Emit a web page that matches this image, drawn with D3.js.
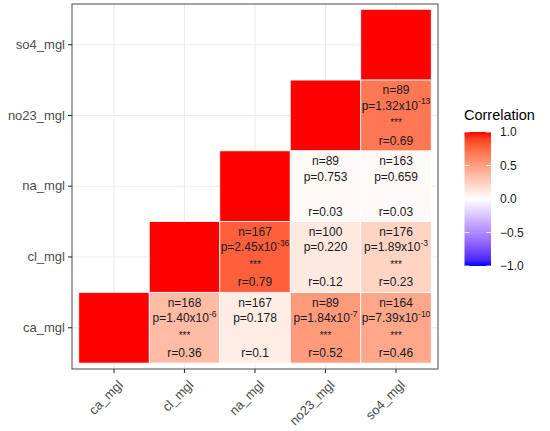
<!DOCTYPE html>
<html><head><meta charset="utf-8">
<script src="https://cdn.jsdelivr.net/npm/d3@7"></script>
<style>body{margin:0;background:#fff;} text{font-family:"Liberation Sans",Arial,sans-serif;}</style>
</head><body>
<svg id="chart" width="550" height="431"></svg>
<script>
const vars = ["ca_mgl","cl_mgl","na_mgl","no23_mgl","so4_mgl"];
// off-diagonal cells (x variable, y variable)
const cellX = ["cl_mgl","na_mgl","no23_mgl","so4_mgl","na_mgl","no23_mgl","so4_mgl","no23_mgl","so4_mgl","so4_mgl"];
const cellY = ["ca_mgl","ca_mgl","ca_mgl","ca_mgl","cl_mgl","cl_mgl","cl_mgl","na_mgl","na_mgl","no23_mgl"];
const nVals = [168,167,89,164,167,100,176,89,163,89];
const pMant = ["1.40","0.178","1.84","7.39","2.45","0.220","1.89","0.753","0.659","1.32"];
const pExp  = ["-6",null,"-7","-10","-36",null,"-3",null,null,"-13"];
const stars = ["***","","***","***","***","","***","","","***"];
const rVals = [0.36,0.1,0.52,0.46,0.79,0.12,0.23,0.03,0.03,0.69];
const legendTicks = [1.0,0.5,0.0,-0.5,-1.0];

const svg = d3.select("#chart");
const panel = {l:72, r:438, t:4, b:369};
const x = d3.scaleBand().domain(vars).range([78.75, 431.25]);
const y = d3.scaleBand().domain(vars.slice().reverse()).range([9.3, 363.1]);
const color = d3.scaleLinear().domain([-1,0,1]).range(["blue","white","red"]).interpolate(d3.interpolateLab);

// panel background
svg.append("rect").attr("x",panel.l).attr("y",panel.t).attr("width",panel.r-panel.l).attr("height",panel.b-panel.t).attr("fill","#fff");
// grid
const g = svg.append("g");
vars.forEach(v=>{
  g.append("line").attr("x1",x(v)+x.bandwidth()/2).attr("x2",x(v)+x.bandwidth()/2).attr("y1",panel.t).attr("y2",panel.b).attr("stroke","#EBEBEB").attr("stroke-width",1.1);
  g.append("line").attr("y1",y(v)+y.bandwidth()/2).attr("y2",y(v)+y.bandwidth()/2).attr("x1",panel.l).attr("x2",panel.r).attr("stroke","#EBEBEB").attr("stroke-width",1.1);
});

// diagonal tiles
svg.append("g").selectAll("rect").data(vars).join("rect")
  .attr("x",d=>x(d)).attr("y",d=>y(d)).attr("width",x.bandwidth()).attr("height",y.bandwidth())
  .attr("fill",color(1)).attr("stroke","#fff").attr("stroke-width",0.8);

const cells = cellX.map((cx,i)=>({x:cx,y:cellY[i],n:nVals[i],pm:pMant[i],pe:pExp[i],s:stars[i],r:rVals[i]}));
const cg = svg.append("g").selectAll("g").data(cells).join("g")
  .attr("transform",d=>`translate(${x(d.x)},${y(d.y)})`);
cg.append("rect").attr("width",x.bandwidth()).attr("height",y.bandwidth())
  .attr("fill",d=>color(d.r)).attr("stroke","#fff").attr("stroke-width",0.8);
const cx0 = x.bandwidth()/2, cy0 = y.bandwidth()/2;
const tcol = "#1a1a1a";
const fs = 12;
cg.append("text").attr("x",cx0).attr("y",cy0-25).attr("text-anchor","middle").attr("dominant-baseline","central")
  .attr("font-size",fs).attr("fill",tcol).text(d=>"n="+d.n);
const pt = cg.append("text").attr("x",cx0).attr("y",cy0-9.5).attr("text-anchor","middle").attr("dominant-baseline","central")
  .attr("font-size",fs).attr("fill",tcol);
pt.append("tspan").text(d=>"p="+d.pm+(d.pe?"x10":""));
pt.filter(d=>d.pe).append("tspan").attr("font-size",8.5).attr("dy",-4.5).text(d=>d.pe);
cg.append("text").attr("x",cx0).attr("y",cy0+11).attr("text-anchor","middle")
  .attr("font-size",10).attr("fill",tcol).text(d=>d.s);
cg.append("text").attr("x",cx0).attr("y",cy0+25.5).attr("text-anchor","middle").attr("dominant-baseline","central")
  .attr("font-size",fs).attr("fill",tcol).text(d=>"r="+d.r);

// panel border
svg.append("rect").attr("x",panel.l).attr("y",panel.t).attr("width",panel.r-panel.l).attr("height",panel.b-panel.t)
  .attr("fill","none").attr("stroke","#595959").attr("stroke-width",1.1);

// axes
const ya = svg.append("g").attr("transform",`translate(${panel.l},0)`).call(d3.axisLeft(y).tickSize(4).tickPadding(3));
const xa = svg.append("g").attr("transform",`translate(0,${panel.b})`).call(d3.axisBottom(x).tickSize(4));
[ya,xa].forEach(a=>{a.select(".domain").remove(); a.selectAll(".tick line").attr("stroke","#333").attr("stroke-width",1.1);
  a.selectAll("text").attr("fill","#4D4D4D").attr("font-size",13).attr("font-family","Liberation Sans, Arial, sans-serif");});
xa.selectAll("text").attr("text-anchor","end").attr("dy",null).attr("y",0)
  .attr("transform","translate(3,10) rotate(-45)").attr("dominant-baseline","hanging");

// legend
const lg = svg.append("g");
const defs = svg.append("defs");
const grad = defs.append("linearGradient").attr("id","lg").attr("x1",0).attr("x2",0).attr("y1",0).attr("y2",1);
d3.range(0,21).forEach(i=>{const v = 1 - i/10; grad.append("stop").attr("offset",(i/20*100)+"%").attr("stop-color",color(v));});
const ls = d3.scaleLinear().domain([1,-1]).range([132,266]);
lg.append("text").attr("x",464).attr("y",120).attr("font-size",14.5).attr("fill","#000").text("Correlation");
lg.append("rect").attr("x",464.5).attr("y",ls(1)).attr("width",26.5).attr("height",ls(-1)-ls(1)).attr("fill","url(#lg)");
legendTicks.forEach(t=>{
  lg.append("line").attr("x1",464.5).attr("x2",469.5).attr("y1",ls(t)).attr("y2",ls(t)).attr("stroke","#fff").attr("stroke-width",0.8);
  lg.append("line").attr("x1",486).attr("x2",491).attr("y1",ls(t)).attr("y2",ls(t)).attr("stroke","#fff").attr("stroke-width",0.8);
  lg.append("text").attr("x",500).attr("y",ls(t)).attr("dominant-baseline","central").attr("font-size",12).attr("fill","#1a1a1a").text(d3.format(".1f")(t));
});
</script>
</body></html>
